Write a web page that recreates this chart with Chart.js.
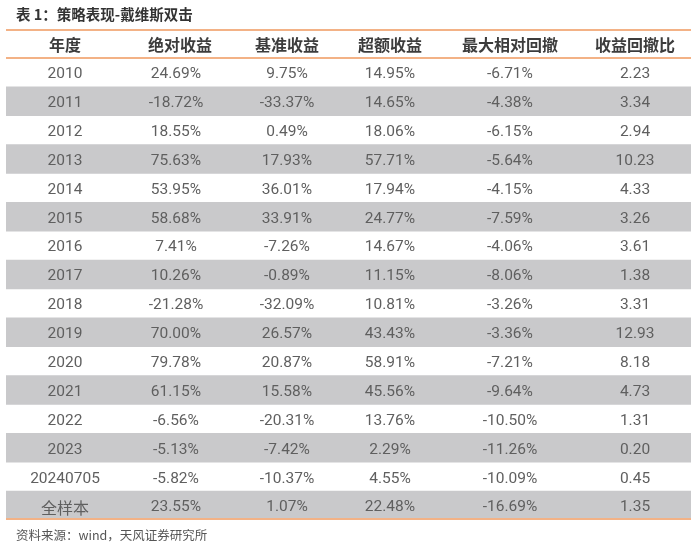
<!DOCTYPE html>
<html>
<head>
<meta charset="utf-8">
<script src="https://cdn.jsdelivr.net/npm/chart.js@4"></script>
<style>
html,body{margin:0;padding:0;background:#fff;}
#wrap{width:700px;height:548px;}
</style>
</head>
<body>
<div id="wrap"><canvas id="c" width="700" height="548"></canvas></div>
<script>
// ---- data ----
const titleText = '表 1：策略表现-戴维斯双击';
const sourceText = '资料来源：wind，天风证券研究所';
const headers = ['年度', '绝对收益', '基准收益', '超额收益', '最大相对回撤', '收益回撤比'];
const years = ['2010','2011','2012','2013','2014','2015','2016','2017','2018','2019','2020','2021','2022','2023','20240705','全样本'];
const absReturn = [24.69,-18.72,18.55,75.63,53.95,58.68,7.41,10.26,-21.28,70.00,79.78,61.15,-6.56,-5.13,-5.82,23.55];
const benchReturn = [9.75,-33.37,0.49,17.93,36.01,33.91,-7.26,-0.89,-32.09,26.57,20.87,15.58,-20.31,-7.42,-10.37,1.07];
const excessReturn = [14.95,14.65,18.06,57.71,17.94,24.77,14.67,11.15,10.81,43.43,58.91,45.56,13.76,2.29,4.55,22.48];
const maxRelDrawdown = [-6.71,-4.38,-6.15,-5.64,-4.15,-7.59,-4.06,-8.06,-3.26,-3.36,-7.21,-9.64,-10.50,-11.26,-10.09,-16.69];
const returnDrawdownRatio = [2.23,3.34,2.94,10.23,4.33,3.26,3.61,1.38,3.31,12.93,8.18,4.73,1.31,0.20,0.45,1.35];

// ---- layout (not data) ----
const TABLE_LEFT = 6, TABLE_RIGHT = 691;
const colCenters = [65, 176, 287, 390, 510, 635];
const headerCenters = [65, 180, 287, 390, 510, 635];

const pct = v => v.toFixed(2) + '%';
const num = v => v.toFixed(2);
const columns = [
  years,
  absReturn.map(pct),
  benchReturn.map(pct),
  excessReturn.map(pct),
  maxRelDrawdown.map(pct),
  returnDrawdownRatio.map(num)
];

const rowLabels = ['__header__'].concat(years);
const stripeData = rowLabels.map((_, i) => (i > 0 && (i - 1) % 2 === 1) ? [TABLE_LEFT, TABLE_RIGHT] : null);

const tablePlugin = {
  id: 'tableText',
  afterDatasetsDraw(chart) {
    const ctx = chart.ctx;
    const x = chart.scales.x, y = chart.scales.y;
    const area = chart.chartArea;
    ctx.save();
    // orange rules
    ctx.strokeStyle = '#f3b286';
    ctx.lineWidth = 2;
    const band = (y.getPixelForValue(1) - y.getPixelForValue(0));
    const headerBottom = y.getPixelForValue(0) + band / 2;
    [area.top + 1, headerBottom, area.bottom - 1].forEach(py => {
      ctx.beginPath();
      ctx.moveTo(x.getPixelForValue(TABLE_LEFT), py);
      ctx.lineTo(x.getPixelForValue(TABLE_RIGHT), py);
      ctx.stroke();
    });
    // header text
    ctx.textAlign = 'center';
    ctx.textBaseline = 'middle';
    ctx.fillStyle = '#3c3c3c';
    ctx.font = 'bold 16px "Noto Sans CJK SC"';
    headers.forEach((h, c) => {
      ctx.fillText(h, x.getPixelForValue(headerCenters[c]), y.getPixelForValue(0) + 1);
    });
    // body text
    ctx.fillStyle = '#5f5f5f';
    columns.forEach((col, c) => {
      col.forEach((txt, r) => {
        const isCJK = /[\u4e00-\u9fff]/.test(txt);
        ctx.font = isCJK ? '16px "Noto Sans CJK SC"' : '15.5px Roboto, "Noto Sans CJK SC"';
        ctx.fillText(txt, x.getPixelForValue(colCenters[c]), y.getPixelForValue(r + 1) + 2);
      });
    });
    // title & source
    ctx.textAlign = 'left';
    ctx.fillStyle = '#333333';
    ctx.font = 'bold 14.5px "Noto Sans CJK SC"';
    ctx.fillText(titleText, 16, 14);
    ctx.fillStyle = '#555555';
    ctx.font = '12.5px "Noto Sans CJK SC"';
    ctx.fillText(sourceText, 16, 535);
    ctx.restore();
  }
};

new Chart(document.getElementById('c'), {
  type: 'bar',
  data: {
    labels: rowLabels,
    datasets: [{
      data: stripeData,
      backgroundColor: '#c9c9cb',
      borderWidth: 0,
      barPercentage: 1,
      categoryPercentage: 1
    }]
  },
  options: {
    indexAxis: 'y',
    responsive: false,
    animation: false,
    events: [],
    layout: { padding: { top: 29, bottom: 28, left: 6, right: 9 } },
    plugins: { legend: { display: false }, title: { display: false }, tooltip: { enabled: false } },
    scales: {
      x: { type: 'linear', min: TABLE_LEFT, max: TABLE_RIGHT, display: false },
      y: { type: 'category', display: false, grid: { display: false }, offset: true }
    }
  },
  plugins: [tablePlugin]
});
</script>
</body>
</html>
